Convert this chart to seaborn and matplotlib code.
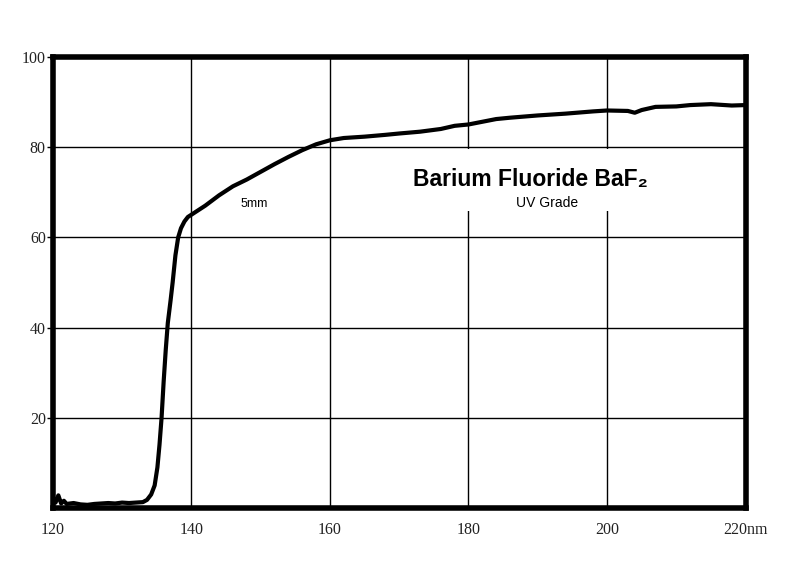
import numpy as np
import pandas as pd
import seaborn as sns
import matplotlib.pyplot as plt

# data

wavelength = [120, 120.4, 120.8, 121.2, 121.6, 122, 123, 124, 125, 126, 127, 128, 129, 130,
              131, 132, 133, 133.6, 134.2, 134.7, 135.1, 135.4, 135.7, 136.0, 136.3,
              136.6, 137.0, 137.3, 137.7, 138.1, 138.5, 139.0, 139.5, 140.5, 142,
              144, 146, 148, 150, 152, 154, 156, 158, 160, 162, 165, 168, 170,
              173, 176, 178, 180, 182, 184, 186, 190, 194, 198, 200, 203, 204,
              205, 207, 210, 212, 215, 218, 220]
transmission = [2.5, 1.2, 2.8, 1.0, 1.6, 0.9, 1.1, 0.8, 0.7, 0.9, 1.0, 1.1, 1.0, 1.2,
                1.1, 1.2, 1.3, 1.8, 3.0, 5.0, 9.0, 14.0, 20.0, 28.0, 35.0,
                41.0, 46.0, 50.0, 56.0, 60.0, 62.0, 63.5, 64.5, 65.5, 67.0,
                69.3, 71.3, 72.8, 74.5, 76.2, 77.8, 79.3, 80.6, 81.5, 82.0, 82.3, 82.7, 83.0,
                83.4, 84.0, 84.7, 85.0, 85.6, 86.2, 86.5, 87.0, 87.4, 87.9, 88.1, 88.0, 87.6,
                88.2, 88.9, 89.0, 89.3, 89.5, 89.2, 89.3]

x_ticks = [120, 140, 160, 180, 200, 220]
x_tick_labels = ["120", "140", "160", "180", "200", "220nm"]
y_ticks = [20, 40, 60, 80, 100]
y_tick_labels = ["20", "40", "60", "80", "100"]

df = pd.DataFrame({"wavelength": wavelength, "transmission": transmission})

sns.set_style("white")
plt.rcParams["font.family"] = ["Liberation Serif", "DejaVu Serif"]
plt.rcParams["text.color"] = "black"

fig = plt.figure(figsize=(8, 5.64), dpi=100)
ax = fig.add_axes([0.066, 0.0993, 0.866, 0.8])

sns.lineplot(data=df, x="wavelength", y="transmission", color="black",
             linewidth=3.0, ax=ax, zorder=3)

ax.set_xlim(120, 220)
ax.set_ylim(0, 100)
ax.set_xticks(x_ticks)
ax.set_xticklabels(x_tick_labels)
ax.set_yticks(y_ticks)
ax.set_yticklabels(y_tick_labels)
ax.set_xlabel("")
ax.set_ylabel("")

ax.grid(True, color="black", linewidth=1.0)
ax.set_axisbelow(True)

for side in ["left", "right", "top", "bottom"]:
    ax.spines[side].set_visible(True)
    ax.spines[side].set_color("black")
    ax.spines[side].set_linewidth(4)

ax.tick_params(axis="both", which="both", direction="out", length=4, width=1,
               color="black", labelsize=11.5, labelcolor="#222222")
ax.tick_params(axis="x", bottom=False, pad=6)
ax.tick_params(axis="y", left=True, pad=1)

# labels inside the plot

ax.text(0.69, 0.727, "Barium Fluoride BaF\u2082", transform=ax.transAxes,
        ha="center", va="center", fontsize=16.5, fontweight="bold", color="black",
        family=["Liberation Sans", "DejaVu Sans"], zorder=4,
        bbox=dict(facecolor="white", edgecolor="none", pad=14))
ax.text(0.714, 0.677, "UV Grade", transform=ax.transAxes,
        ha="center", va="center", fontsize=10, color="black",
        family=["Liberation Sans", "DejaVu Sans"], zorder=5)
ax.text(0.29, 0.674, "5mm", transform=ax.transAxes,
        ha="center", va="center", fontsize=9, color="black",
        family=["Liberation Sans", "DejaVu Sans"], zorder=5)

plt.savefig("out.png", dpi=100)
plt.close()
